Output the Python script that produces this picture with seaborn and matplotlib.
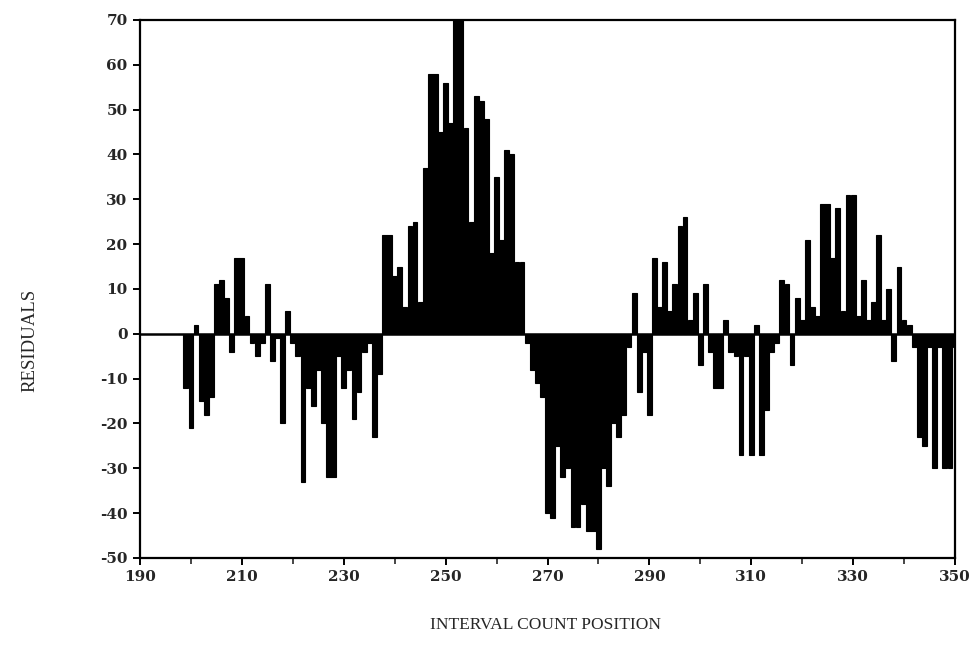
import numpy as np
import pandas as pd
import matplotlib
matplotlib.use("Agg")
import matplotlib.pyplot as plt
from matplotlib.ticker import MultipleLocator
import seaborn as sns

# Interval count positions and their residuals
positions = list(range(198, 351))

residuals_a = [0, -12, -21, 2, -15, -18, -14, 11, 12, 8, -4, 17, 17, 4, -2, -5, -2,
               11, -6, -1, -20, 5, -2]                                   # 198-220
residuals_b = [-5, -33, -12, -16, -8, -20, -32, -32, -5, -12, -8, -19, -13, -4, -2,
               -23, -9]                                                  # 221-237
residuals_c = [22, 22, 13, 15, 6, 24, 25, 7, 37, 58, 58, 45, 56, 47, 70, 70, 46, 25,
               53, 52, 48, 18, 35, 21, 41, 40, 16, 16]                   # 238-265
residuals_d = [-2, -8, -11, -14, -40, -41, -25, -32, -30, -43, -43, -38, -44, -44,
               -48, -30, -34, -20, -23, -18, -3, 9, -13, -4, -18]        # 266-290
residuals_e = [17, 6, 16, 5, 11, 24, 26, 3, 9, -7, 11, -4, -12, -12, 3, -4, -5, -27,
               -5, -27, 2, -27, -17, -4, -2, 12, 11, -7, 8, 3, 21, 6]    # 291-322
residuals_f = [4, 29, 29, 17, 28, 5, 31, 31, 4, 12, 3, 7, 22, 3, 10, -6, 15, 3, 2,
               -3, -23, -25, -3, -30, -3, -30, -30, -3]                  # 323-350

residuals = residuals_a + residuals_b + residuals_c + residuals_d + residuals_e + residuals_f

x_ticks = list(range(190, 351, 20))
y_ticks = list(range(-50, 71, 10))

df = pd.DataFrame({"position": positions, "residual": residuals})

sns.set_style("ticks")
plt.rcParams["font.family"] = ["Liberation Serif", "DejaVu Serif"]

fig = plt.figure(figsize=(9.77, 6.57), dpi=100)
ax = fig.add_axes([0.1433, 0.1507, 0.8342, 0.8189])

sns.barplot(data=df, x="position", y="residual", native_scale=True,
            color="black", width=0.95, edgecolor="black", linewidth=0.8,
            saturation=1, ax=ax)

ax.axhline(0, color="black", linewidth=1.8)

ax.set_xlim(190, 350)
ax.set_ylim(-50, 70)
ax.set_xticks(x_ticks)
ax.xaxis.set_minor_locator(MultipleLocator(10))
ax.set_yticks(y_ticks)
ax.set_yticklabels([str(v) for v in y_ticks])
ax.set_xticklabels([str(v) for v in x_ticks])

for lab in ax.get_xticklabels() + ax.get_yticklabels():
    lab.set_family(["DejaVu Serif"])
    lab.set_fontweight("bold")
    lab.set_fontsize(11)

ax.tick_params(axis="both", which="major", direction="out", length=5, width=1.4,
               color="black", pad=4)
ax.tick_params(axis="x", which="minor", direction="out", length=4, width=1.2)

for side in ["left", "right", "bottom", "top"]:
    ax.spines[side].set_visible(True)
    ax.spines[side].set_color("black")
    ax.spines[side].set_linewidth(1.6)

ax.set_xlabel("INTERVAL COUNT POSITION", fontsize=12.5)
ax.set_ylabel("RESIDUALS", fontsize=13.5)
ax.xaxis.set_label_coords(0.497, -0.11)
ax.yaxis.set_label_coords(-0.125, 0.405)

fig.savefig("out.png", dpi=100, facecolor="white")
